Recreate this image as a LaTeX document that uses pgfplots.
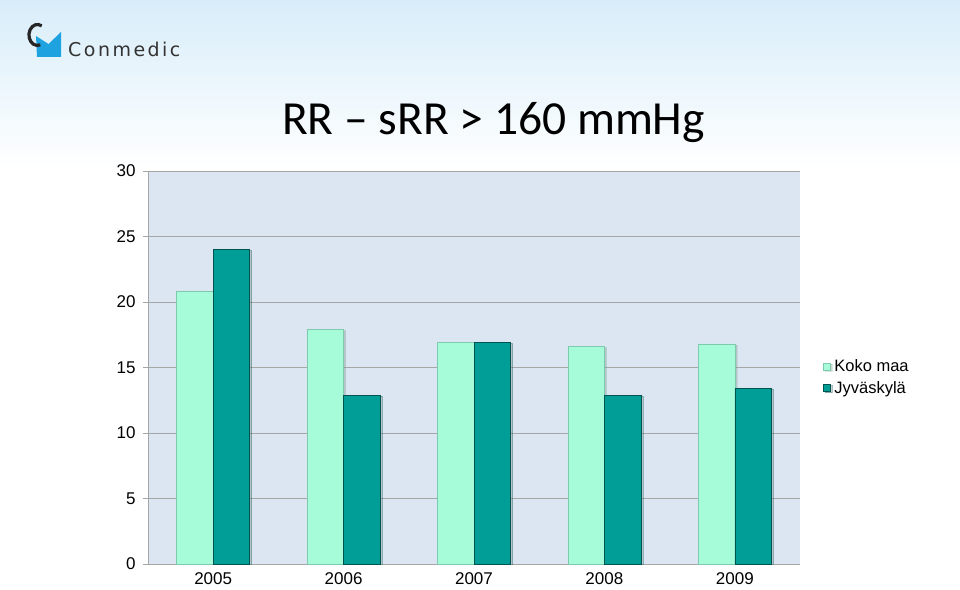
\documentclass[border=0pt]{standalone}
\usepackage{fontspec}
\setmainfont{Liberation Sans}
\newfontfamily\titlefont{Carlito}
\newfontfamily\logofont[LetterSpace=13]{DejaVu Sans}
\usepackage{pgfplots}
\pgfplotsset{compat=1.18}
\usetikzlibrary{shadows}
\definecolor{bgtop}{HTML}{D8EDF9}
\definecolor{plotbg}{HTML}{DCE6F2}
\definecolor{mint}{HTML}{A6FCD8}
\definecolor{mintedge}{HTML}{7FC9AE}
\definecolor{teal}{HTML}{009E97}
\definecolor{tealedge}{HTML}{005450}
\definecolor{gridc}{HTML}{A6A6A6}
\definecolor{logoblue}{HTML}{1FA3E0}
\begin{document}
\begin{tikzpicture}[x=1pt,y=1pt]
\useasboundingbox (0,0) rectangle (960,589);
\fill[white] (0,0) rectangle (960,589);
\shade[top color=bgtop, bottom color=white] (0,420) rectangle (960,589);
% logo
\fill[logoblue] (36,589-36) -- (48.5,589-44) -- (61,589-32) -- (61,589-57) -- (37,589-57) -- cycle;
\draw[black!85, line width=3.2pt] (37.5+4.2,589-35+9.1) arc[start angle=60, end angle=290, x radius=8.5, y radius=10.5];
\node[anchor=base west, inner sep=0pt, text=black!80] at (68,589-57) {\logofont\fontsize{19}{22}\selectfont Conmedic};
% title
\node[anchor=base, inner sep=0pt] at (493.5,589-135) {\titlefont\fontsize{47.5}{55}\selectfont RR – sRR > 160 mmHg};
\begin{axis}[
  at={(148pt,25pt)}, anchor=south west,
  scale only axis, width=652pt, height=393pt,
  xmin=-0.5, xmax=4.5, ymin=0, ymax=30,
  ytick={0,5,...,30},
  xtick={0,1,2,3,4},
  xticklabels={2005,2006,2007,2008,2009},
  x tick style={draw=none},
  extra x ticks={-0.5,0.5,1.5,2.5,3.5,4.5},
  extra x tick labels={},
  extra x tick style={grid=none, tick style={draw=gridc}, major tick length=5pt, tick align=outside},
  y tick style={draw=gridc}, major tick length=5pt, tick align=outside,
  ymajorgrids, grid style={gridc, line width=0.8pt},
  axis background/.style={fill=plotbg},
  axis x line*=bottom, axis y line*=left,
  axis line style={gridc, line width=0.8pt},
  ticklabel style={font=\fontsize{17}{20}\selectfont},
  /pgf/number format/assume math mode=true,
  yticklabel style={xshift=-4pt},
  xticklabel style={yshift=-3pt, inner ysep=0.5pt},
  ybar=0pt, bar width=36.5pt,
  legend style={draw=none, fill=none, at={(1.03,0.475)}, anchor=west,
    font=\fontsize{16.5}{19}\selectfont, row sep=4pt,
    nodes={inner xsep=4pt}},
  legend image code/.code={\fill[#1] (0pt,-3.5pt) rectangle (7pt,3.5pt);},
  legend cell align=left,
]
\addplot[fill=mint, draw=mintedge, line width=0.6pt, drop shadow={shadow xshift=2pt, shadow yshift=-1pt, opacity=0.35}] coordinates {(0,20.8) (1,17.9) (2,16.9) (3,16.6) (4,16.8)};
\addplot[fill=teal, draw=tealedge, line width=0.6pt, drop shadow={shadow xshift=2pt, shadow yshift=-1pt, opacity=0.35}] coordinates {(0,24.0) (1,12.9) (2,16.9) (3,12.9) (4,13.4)};
\legend{Koko maa, Jyväskylä}
\end{axis}
\end{tikzpicture}
\end{document}
